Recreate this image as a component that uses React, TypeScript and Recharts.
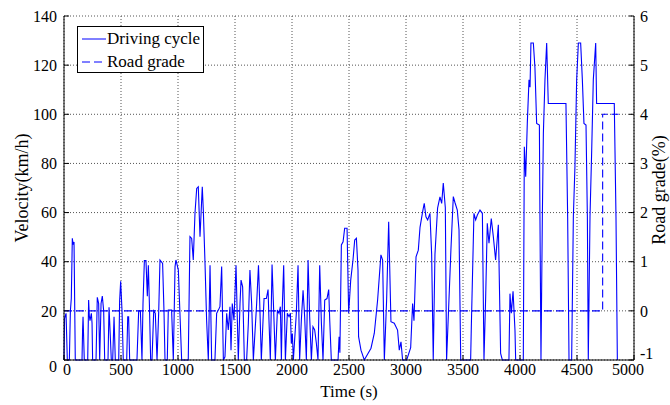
import { LineChart, Line, XAxis, YAxis, CartesianGrid, Legend } from 'recharts';

// driving cycle (time in s, speed in km/h)
const cycleTime = [
  0, 5, 18, 29, 47, 56, 64, 73, 80, 88, 99, 158, 163, 167, 178, 208, 216, 222, 228, 240, 246, 251,
  281, 292, 304, 313, 325, 336, 348, 357, 386, 395, 406, 415, 427, 439, 450, 480, 488, 497, 509, 520,
  550, 559, 567, 576, 640, 655, 670, 684, 693, 705, 719, 731, 740, 749, 760, 772, 787, 801, 816, 831,
  842, 865, 877, 886, 906, 915, 944, 959, 974, 982, 1003, 1017, 1032, 1090, 1105, 1120, 1134, 1149,
  1164, 1178, 1193, 1213, 1222, 1237, 1251, 1266, 1281, 1295, 1324, 1339, 1354, 1368, 1383, 1398,
  1412, 1427, 1441, 1456, 1465, 1476, 1491, 1509, 1529, 1544, 1553, 1567, 1582, 1602, 1617, 1631,
  1646, 1661, 1690, 1706, 1717, 1731, 1746, 1755, 1775, 1790, 1798, 1810, 1825, 1839, 1854, 1872,
  1886, 1898, 1907, 1915, 1927, 1942, 1959, 1974, 1986, 1994, 2003, 2012, 2038, 2053, 2067, 2082,
  2097, 2111, 2126, 2141, 2155, 2170, 2184, 2199, 2214, 2228, 2243, 2258, 2272, 2287, 2307, 2322,
  2331, 2345, 2404, 2413, 2420, 2433, 2448, 2462, 2483, 2497, 2515, 2535, 2550, 2565, 2579, 2584,
  2605, 2634, 2693, 2722, 2751, 2780, 2795, 2810, 2830, 2848, 2868, 2897, 2926, 2941, 2956, 2970,
  3006, 3041, 3058, 3070, 3088, 3108, 3123, 3146, 3160, 3175, 3190, 3210, 3225, 3239, 3254, 3277,
  3298, 3313, 3327, 3345, 3356, 3394, 3415, 3430, 3450, 3465, 3480, 3567, 3573, 3596, 3611, 3626,
  3649, 3670, 3684, 3699, 3713, 3728, 3748, 3766, 3786, 3810, 3830, 3845, 3903, 3912, 3924, 3939,
  3956, 3962, 4029, 4038, 4050, 4064, 4079, 4088, 4096, 4117, 4131, 4146, 4170, 4175, 4184, 4196,
  4205, 4219, 4234, 4248, 4403, 4418, 4430, 4453, 4468, 4482, 4497, 4512, 4532, 4547, 4561, 4579,
  4591, 4599, 4614, 4629, 4643, 4664, 4672, 4827, 4842, 4854,
];
const cycleSpeed = [
  0, 17, 19, 0, 0, 20, 25, 49.5, 47, 48, 0, 0, 12, 17.6, 0, 0, 24.4, 18, 16, 19, 15, 0,
  0, 25.5, 23, 0, 23, 26, 20, 0, 0, 21.5, 10, 0, 0, 17.6, 0, 0, 24, 32, 20, 0,
  0, 17.6, 17.6, 0, 0, 20, 20, 0, 23, 40.5, 40.5, 26, 38.6, 23, 0, 0, 20, 19, 0, 20,
  40.7, 39.3, 20, 0, 0, 20.3, 20.3, 0, 38, 40.7, 36.6, 19, 0, 0, 50.2, 49.5, 40.7, 59.7,
  69.8, 70.5, 50.2, 70.5, 61, 39.3, 16.2, 0, 38.6, 0, 0, 19, 20.3, 21.7, 38, 0,
  1.3, 19, 12.2, 21.7, 4, 23, 16.2, 38.6, 0, 23, 32.5, 29.8, 0, 0, 14.9, 36.6,
  23, 0, 23, 38.6, 23, 0, 16.2, 25, 25, 28.7, 16.2, 0, 38.9, 20.3, 0, 20.3,
  19, 21.7, 0, 21.7, 38.6, 0, 19, 17.6, 19, 6.7, 10.8, 0, 19, 38.6, 0, 16.2,
  28.4, 17.6, 0, 40.7, 17.6, 0, 13.5, 12.2, 6.7, 0, 38.6, 14.9, 0, 24.4, 25, 28.7,
  16.2, 0, 0, 9.5, 3, 46.8, 48.1, 53.6, 53.6, 19, 32.5, 40.7, 48.8, 49.5, 36.6, 9.5,
  4, 0, 4.8, 10.9, 24.4, 42.8, 40.7, 0, 24.4, 56.3, 15.6, 15, 12.2, 4, 7.4, 0,
  0, 5, 23, 16, 42, 44.7, 54, 60.4, 63.8, 58.3, 57, 59.7, 43, 0, 43, 61.8,
  66.4, 63.7, 72, 62, 0, 44.8, 66.5, 64, 61, 53, 0, 0, 13.5, 59.7, 57, 59,
  61, 59.7, 0, 25.8, 55.6, 47.5, 57.6, 50.2, 40.7, 55, 2.7, 0, 0, 27, 19, 28,
  12, 0, 0, 86.8, 74.6, 96.3, 114, 111, 129, 129, 119, 96.3, 95.6, 58.3, 0, 58.3,
  92.2, 114, 129, 104.4, 104.4, 58.3, 0, 0, 58.3, 78.7, 114, 129, 129, 114, 96.3, 95.6,
  58.3, 0, 58.3, 85.4, 114, 129, 104.4, 104.4, 58.3, 0,
];

// road grade (%)
const gradeTime = [0, 4725, 4725, 4865];
const gradeValue = [0, 0, 4, 4];

const timeTicks = [0, 500, 1000, 1500, 2000, 2500, 3000, 3500, 4000, 4500, 5000];
const speedTicks = [0, 20, 40, 60, 80, 100, 120, 140];
const gradeTicks = [-1, 0, 1, 2, 3, 4, 5, 6];

const cycleData = cycleTime.map((t, i) => ({ t, v: cycleSpeed[i] }));
const gradeData = gradeTime.map((t, i) => ({ t, g: gradeValue[i] }));

const FONT = '"Liberation Serif", "Times New Roman", serif';
const BLUE = '#0000ff';

const TimeTick = (props: any) => {
  const { x, y, payload } = props;
  const shift = payload.value === 0 ? 3 : payload.value === 5000 ? -6 : 0;
  return (
    <text x={x + shift} y={y} dy="0.71em" textAnchor="middle" fill="#000" fontFamily={FONT} fontSize={16}>
      {payload.value}
    </text>
  );
};

// matlab nudges the corner labels away from each other
const SpeedTick = (props: any) => {
  const { x, y, payload } = props;
  const shift = payload.value === 0 ? 6 : 0;
  return (
    <text x={x} y={y + shift} dy="0.355em" textAnchor="end" fill="#000" fontFamily={FONT} fontSize={16}>
      {payload.value}
    </text>
  );
};

const GradeTick = (props: any) => {
  const { x, y, payload } = props;
  const shift = payload.value === -1 ? -7 : 0;
  return (
    <text x={x} y={y + shift} dy="0.355em" textAnchor="start" fill="#000" fontFamily={FONT} fontSize={16}>
      {payload.value}
    </text>
  );
};

const LegendBox = () => (
  <div
    style={{
      width: 127, height: 47, boxSizing: 'border-box', border: '1px solid #000', background: '#fff',
      fontFamily: FONT, fontSize: 17, color: '#000', paddingLeft: 4, paddingTop: 0,
    }}
  >
    {[
      { name: 'Driving cycle', dash: undefined },
      { name: 'Road grade', dash: '8 4' },
    ].map((it) => (
      <div key={it.name} style={{ display: 'flex', alignItems: 'center', height: 23, whiteSpace: 'nowrap' }}>
        <svg width={24} height={10} style={{ marginRight: 1 }}>
          <line x1={0} y1={5} x2={24} y2={5} stroke={BLUE} strokeWidth={1} strokeDasharray={it.dash} />
        </svg>
        <span>{it.name}</span>
      </div>
    ))}
  </div>
);

export default function App() {
  return (
    <div style={{ position: 'absolute', left: 0, top: 0, background: '#fff' }}>
      <LineChart width={670} height={405} margin={{ top: 16, right: 0, bottom: 0, left: 0 }}>
        <CartesianGrid stroke="#555" strokeDasharray="1 2" yAxisId="left" />
        <XAxis
          dataKey="t" type="number" domain={[0, 5000]} ticks={timeTicks} height={45}
          axisLine={{ stroke: '#000' }} tickLine={{ stroke: '#000' }} tickSize={-5} tickMargin={9}
          tick={<TimeTick />}
          label={{
            content: () => (
              <text x={349} y={397} textAnchor="middle" fontFamily={FONT} fontSize={17} fill="#000">Time (s)</text>
            ),
          }}
        />
        <XAxis
          xAxisId="top" orientation="top" dataKey="t" type="number" domain={[0, 5000]} ticks={timeTicks}
          height={0} axisLine={{ stroke: '#000' }} tickLine={{ stroke: '#000' }} tickSize={-5} tick={() => <g />}
        />
        <YAxis
          yAxisId="left" domain={[0, 140]} ticks={speedTicks} width={64}
          axisLine={{ stroke: '#000' }} tickLine={{ stroke: '#000' }} tickSize={-5} tickMargin={12}
          tick={<SpeedTick />}
          label={{
            content: () => (
              <text x={22} y={188} transform="rotate(-90 22 188)" textAnchor="middle" dominantBaseline="central"
                fontFamily={FONT} fontSize={18} fill="#000">Velocity(km/h)</text>
            ),
          }}
        />
        <YAxis
          yAxisId="right" orientation="right" domain={[-1, 6]} ticks={gradeTicks} width={36}
          axisLine={{ stroke: '#000' }} tickLine={{ stroke: '#000' }} tickSize={-5} tickMargin={11}
          tick={<GradeTick />}
          label={{
            content: () => (
              <text x={659} y={190} transform="rotate(-90 659 190)" textAnchor="middle" dominantBaseline="central"
                fontFamily={FONT} fontSize={18} fill="#000">Road grade(%)</text>
            ),
          }}
        />
        <Legend
          layout="vertical" align="center" verticalAlign="middle"
          wrapperStyle={{ left: 77, top: 26, width: 127, height: 47 }}
          content={<LegendBox />}
        />
        <Line
          yAxisId="left" data={cycleData} dataKey="v" name="Driving cycle" type="linear"
          stroke={BLUE} strokeWidth={1.1} dot={false} activeDot={false} isAnimationActive={false}
        />
        <Line
          yAxisId="right" data={gradeData} dataKey="g" name="Road grade" type="linear"
          stroke={BLUE} strokeWidth={1.1} strokeDasharray="8 4" dot={false} activeDot={false} isAnimationActive={false}
        />
      </LineChart>
    </div>
  );
}
